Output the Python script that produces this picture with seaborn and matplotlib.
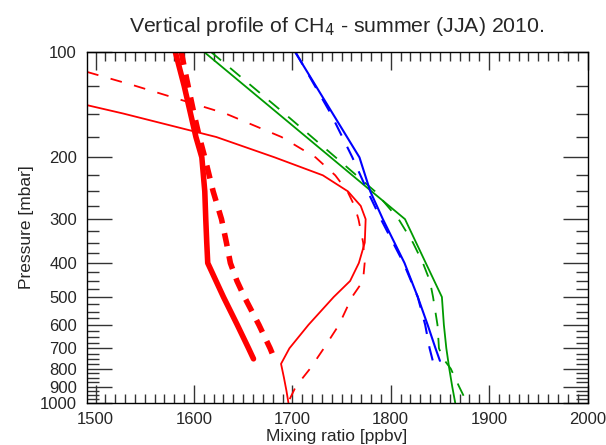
import numpy as np
import pandas as pd
import matplotlib
matplotlib.use('Agg')
import matplotlib.pyplot as plt
from matplotlib.ticker import FixedLocator, NullFormatter, FuncFormatter
import seaborn as sns

# PERFILES CH4 [ppbv] vs PRESION [mbar]

# rojo grueso continuo
p_red_thick = [100, 125, 150, 175, 200, 250, 300, 350, 400, 500, 600, 700, 750]
ch4_red_thick = [1581, 1590, 1596.5, 1602, 1608, 1611, 1612, 1613, 1614, 1630, 1644, 1655.5, 1660.5]

# rojo grueso discontinuo
p_red_thick_dash = [100, 125, 150, 175, 200, 250, 300, 350, 400, 450, 500, 600, 700, 750]
ch4_red_thick_dash = [1587, 1594, 1600, 1605.5, 1611, 1619.5, 1628, 1633, 1637, 1643.7, 1651.3, 1666, 1677.4, 1681.8]

# rojo fino continuo
p_red_thin = [100, 125, 150, 175, 200, 225, 250, 275, 300, 350, 400, 450, 500, 600, 700, 775, 850, 925, 1000]
ch4_red_thin = [1330, 1406, 1528, 1622.7, 1682, 1731, 1756.5, 1769.5, 1774.5, 1773.6, 1767.6, 1758.7, 1742,
                1716.4, 1697, 1688.5, 1691.5, 1694, 1696]

# rojo fino discontinuo
p_red_thin_dash = [100, 125, 150, 175, 200, 225, 250, 275, 300, 350, 400, 450, 500, 600, 700, 800, 900, 1000]
ch4_red_thin_dash = [1420, 1540, 1632, 1689, 1723.6, 1743.6, 1756, 1763.2, 1767.2, 1772, 1773.5, 1771.8,
                     1760.6, 1747.4, 1732, 1718, 1703.5, 1695.5]

# verde
p_green = [100, 300, 500, 600, 700, 800, 900, 1000]
ch4_green = [1610, 1814.5, 1852, 1854, 1856.5, 1859.5, 1862.5, 1865.5]

p_green_dash = [100, 150, 200, 250, 300, 350, 400, 450, 500, 600, 700, 750, 800, 900, 1000]
ch4_green_dash = [1617, 1692, 1744, 1784, 1808, 1822.6, 1832.7, 1839.8, 1843, 1847.5, 1849, 1853.5, 1861,
                  1869.5, 1877.5]

# azul
p_blue = [100, 200, 250, 300, 400, 500, 600, 700, 760]
ch4_blue = [1702.6, 1768.2, 1779.2, 1792, 1814, 1827.5, 1837.5, 1845.5, 1850]

p_blue_dash = [100, 150, 200, 250, 300, 400, 500, 600, 700, 765]
ch4_blue_dash = [1703, 1739, 1761, 1776.5, 1790, 1813, 1827.5, 1835, 1839.5, 1843]

y_major = list(range(100, 1001, 100))
y_minor = [v for v in range(125, 1000, 25) if v % 100 != 0]

sns.set_theme(style="ticks")
plt.rcParams['font.family'] = ['Liberation Sans', 'DejaVu Sans']
plt.rcParams['axes.linewidth'] = 1.0

fig = plt.figure(figsize=(6.06, 4.45), dpi=100)
ax = fig.add_axes([0.1431, 0.0951, 0.8264, 0.7887])
ax.set_yscale('log')

RED, GREEN, BLUE = '#ff0000', '#009a00', '#0000ff'
series = [
    (ch4_red_thin, p_red_thin, RED, 1.3, '-'),
    (ch4_red_thin_dash, p_red_thin_dash, RED, 1.3, (0, (6.5, 7))),
    (ch4_green, p_green, GREEN, 1.3, '-'),
    (ch4_green_dash, p_green_dash, GREEN, 1.3, (0, (7.5, 6.5))),
    (ch4_blue, p_blue, BLUE, 1.5, '-'),
    (ch4_blue_dash, p_blue_dash, BLUE, 1.5, (0, (7, 6))),
    (ch4_red_thick, p_red_thick, RED, 4.0, '-'),
    (ch4_red_thick_dash, p_red_thick_dash, RED, 4.0, (0, (2.4, 1.8))),
]
for x, y, c, lw, ls in series:
    sns.lineplot(x=x, y=y, orient='y', sort=False, estimator=None, color=c,
                 linewidth=lw, linestyle=ls, ax=ax)

ax.set_xlim(1491, 2000)
ax.set_ylim(1000, 100)

ax.xaxis.set_major_locator(FixedLocator(range(1500, 2001, 100)))
ax.xaxis.set_minor_locator(FixedLocator(range(1500, 2001, 10)))
ax.yaxis.set_major_locator(FixedLocator(y_major))
ax.yaxis.set_major_formatter(FuncFormatter(lambda v, pos: f"{v:.0f}"))
ax.yaxis.set_minor_locator(FixedLocator(y_minor))
ax.yaxis.set_minor_formatter(NullFormatter())

ax.tick_params(axis='y', which='major', direction='in', length=18, width=1, left=True, right=True,
               labelsize=12, pad=7, color='#333333')
ax.tick_params(axis='y', which='minor', direction='in', length=8.6, width=1, left=True, right=True,
               color='#333333')
ax.tick_params(axis='x', which='major', direction='in', length=12.7, width=1, bottom=True, top=True,
               labelsize=12, pad=7, color='#333333')
ax.tick_params(axis='x', which='minor', direction='in', length=6.3, width=1, bottom=True, top=True,
               color='#333333')
for s in ax.spines.values():
    s.set_color('black')

ax.set_title("Vertical profile of CH$_4$ - summer (JJA) 2010.", fontsize=15.3, pad=14)
ax.set_xlabel("Mixing ratio [ppbv]", fontsize=12.5, labelpad=1.5)
ax.set_ylabel("Pressure [mbar]", fontsize=12.5, labelpad=4)

plt.savefig("out.png", dpi=100)
plt.close()
